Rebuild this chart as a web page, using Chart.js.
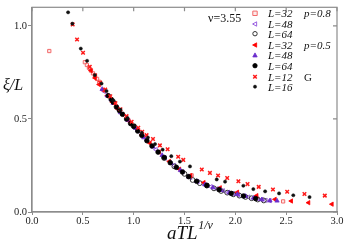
<!DOCTYPE html>
<html><head><meta charset="utf-8">
<script src="https://cdn.jsdelivr.net/npm/chart.js@4/dist/chart.umd.min.js"></script>
<style>html,body{margin:0;padding:0;background:#fff}#w{width:345px;height:243px;position:relative}</style>
</head><body><div id="w"><canvas id="c"></canvas></div>
<script>
// ---- data ----
const xTicks = [0, 0.5, 1.0, 1.5, 2.0, 2.5, 3.0];
const yTicks = [0, 0.5, 1.0];

const p8L32x = [0.17, 0.52, 0.54, 0.56, 0.58, 0.60, 0.62, 0.64, 0.66, 1.57, 2.47];
const p8L32y = [0.865, 0.805, 0.79, 0.775, 0.76, 0.745, 0.73, 0.715, 0.70, 0.197, 0.057];

const p8L48x = [0.71,0.78,0.86,0.95,1.04,1.13,1.22,1.31,1.40,1.48,1.56,1.63,1.70,1.76,1.82,1.88,1.93,1.98,2.03,2.08,2.13,2.18,2.22,2.26,2.30,2.34];
const p8L48y = [0.648,0.60,0.545,0.49,0.435,0.385,0.335,0.29,0.25,0.216,0.186,0.163,0.147,0.136,0.125,0.114,0.105,0.098,0.092,0.086,0.080,0.074,0.070,0.067,0.063,0.061];

const p8L64x = [1.30,1.40,1.50,1.58,1.65,1.72,1.79,1.86,1.92,1.98,2.04,2.10,2.16,2.22,2.28];
const p8L64y = [0.29,0.245,0.205,0.172,0.155,0.142,0.127,0.113,0.104,0.095,0.088,0.081,0.074,0.067,0.062];

const p5L32x = [0.58,0.62,0.66,0.70,0.74,0.79,0.84,0.89,0.95,1.01,1.08,1.16,1.25,1.35,1.45,1.56,1.69,1.85,2.02,2.21,2.39,2.55,2.72,2.95];
const p5L32y = [0.76,0.72,0.685,0.655,0.625,0.59,0.555,0.525,0.49,0.455,0.415,0.37,0.322,0.272,0.23,0.195,0.158,0.13,0.106,0.088,0.068,0.059,0.05,0.042];

const p5L48x = [0.69,0.74,0.80,0.87,0.94,1.02,1.10,1.19,1.28,1.37,1.46,1.54,1.62,1.70,1.78,1.86,1.94,2.02,2.10,2.18,2.26,2.34,2.41];
const p5L48y = [0.66,0.625,0.585,0.535,0.495,0.45,0.40,0.35,0.305,0.262,0.224,0.19,0.165,0.147,0.131,0.117,0.104,0.095,0.085,0.075,0.067,0.061,0.06];

const p5L64x = [0.75,0.78,0.80,0.83,0.86,0.89,0.93,0.97,1.00,1.04,1.08,1.13,1.18,1.24,1.30,1.36,1.42,1.48,1.54,1.62,1.72,1.84,1.96,2.08,2.20];
const p5L64y = [0.625,0.605,0.59,0.565,0.545,0.525,0.50,0.475,0.46,0.435,0.412,0.383,0.355,0.322,0.293,0.265,0.24,0.215,0.19,0.165,0.143,0.12,0.10,0.086,0.072];

const gL12x = [0.40,0.443,0.502,0.568,0.62,0.67,0.72,0.77,0.82,0.87,0.93,0.98,1.045,1.084,1.127,1.19,1.258,1.334,1.438,1.488,1.67,1.75,1.83,1.92,2.03,2.12,2.23,2.37,2.51,2.68,2.88];
const gL12y = [1.008,0.927,0.856,0.78,0.735,0.695,0.658,0.622,0.585,0.552,0.515,0.485,0.453,0.431,0.413,0.392,0.358,0.337,0.297,0.28,0.228,0.21,0.196,0.183,0.165,0.15,0.135,0.121,0.109,0.097,0.088];

const gL16x = [0.355,0.397,0.48,0.542,0.618,0.684,0.733,0.80,0.87,0.94,1.01,1.08,1.14,1.21,1.285,1.37,1.455,1.554,1.817,1.899,2.079,2.177,2.293,2.43,2.57,2.73];
const gL16y = [1.073,1.012,0.878,0.8125,0.736,0.69,0.65,0.60,0.55,0.505,0.465,0.425,0.40,0.365,0.335,0.30,0.271,0.245,0.175,0.163,0.141,0.123,0.111,0.10,0.09,0.08];

const legendLabels = ['L=32','L=48','L=64','L=32','L=48','L=64','L=12','L=16'];
const groupLabels  = ['p=0.8','','','p=0.5','','','G',''];
const nuLabel = 'ν=3.55';

// ---- build ----
const pts = (xs, ys) => xs.map((x, i) => ({x, y: ys[i]}));
const styles = [
  {pointStyle:'rect', rotation:0, radius:2.3, borderColor:'#f26a6a', backgroundColor:'rgba(242,106,106,0.15)', borderWidth:1},
  {pointStyle:'triangle', rotation:-90, radius:2.5, borderColor:'#9a60e0', backgroundColor:'rgba(0,0,0,0)', borderWidth:1},
  {pointStyle:'circle', rotation:0, radius:2.4, borderColor:'#333', backgroundColor:'rgba(0,0,0,0)', borderWidth:1},
  {pointStyle:'triangle', rotation:-90, radius:2.5, borderColor:'#ff0000', backgroundColor:'#ff0000', borderWidth:0.8},
  {pointStyle:'triangle', rotation:0, radius:2.5, borderColor:'#6a2ccc', backgroundColor:'#6a2ccc', borderWidth:0.8},
  {pointStyle:'circle', rotation:0, radius:2.3, borderColor:'#000', backgroundColor:'#000', borderWidth:0.8},
  {pointStyle:'crossRot', rotation:0, radius:2.5, borderColor:'#ff1a1a', backgroundColor:'#ff1a1a', borderWidth:1.5},
  {pointStyle:'circle', rotation:0, radius:1.6, borderColor:'#111', backgroundColor:'#111', borderWidth:0.5},
];
const series = [
  pts(p8L32x,p8L32y), pts(p8L48x,p8L48y), pts(p8L64x,p8L64y),
  pts(p5L32x,p5L32y), pts(p5L48x,p5L48y), pts(p5L64x,p5L64y),
  pts(gL12x,gL12y), pts(gL16x,gL16y)
];
const datasets = series.map((d, i) => ({
  label: legendLabels[i] + ' ' + groupLabels[i],
  data: d,
  pointStyle: styles[i].pointStyle,
  pointRotation: styles[i].rotation,
  pointRadius: styles[i].radius,
  pointBorderColor: styles[i].borderColor,
  pointBackgroundColor: styles[i].backgroundColor,
  pointBorderWidth: styles[i].borderWidth,
  showLine: false,
  order: 8 - i
}));

function marker(ctx, s, x, y) {
  ctx.save();
  ctx.translate(x, y);
  ctx.rotate(s.rotation * Math.PI / 180);
  ctx.strokeStyle = s.borderColor; ctx.fillStyle = s.backgroundColor; ctx.lineWidth = s.borderWidth;
  const r = s.radius;
  ctx.beginPath();
  if (s.pointStyle === 'rect') { ctx.rect(-r, -r, 2*r, 2*r); ctx.fill(); ctx.stroke(); }
  else if (s.pointStyle === 'circle') { ctx.arc(0, 0, r, 0, Math.PI*2); ctx.fill(); ctx.stroke(); }
  else if (s.pointStyle === 'triangle') {
    ctx.moveTo(0, -r*1.1); ctx.lineTo(r, r*0.75); ctx.lineTo(-r, r*0.75); ctx.closePath(); ctx.fill(); ctx.stroke();
  } else if (s.pointStyle === 'crossRot') {
    const d = r*0.8; ctx.moveTo(-d,-d); ctx.lineTo(d,d); ctx.moveTo(d,-d); ctx.lineTo(-d,d); ctx.stroke();
  }
  ctx.restore();
}

const deco = {
  id: 'deco',
  afterDraw(chart) {
    const ctx = chart.ctx, a = chart.chartArea, xs = chart.scales.x, ys = chart.scales.y;
    ctx.save();
    ctx.strokeStyle = '#8c8c8c'; ctx.lineWidth = 1.2;
    ctx.strokeRect(a.left, a.top, a.right - a.left, a.bottom - a.top);
    ctx.beginPath();
    xTicks.forEach(v => { const px = xs.getPixelForValue(v); ctx.moveTo(px, a.top); ctx.lineTo(px, a.top + 4); });
    yTicks.forEach(v => { const py = ys.getPixelForValue(v); ctx.moveTo(a.right, py); ctx.lineTo(a.right - 4, py); });
    ctx.stroke();
    ctx.fillStyle = '#111';
    // axis titles
    ctx.textBaseline = 'alphabetic'; ctx.textAlign = 'left';
    ctx.font = 'italic 19px "Liberation Serif"';
    ctx.fillText('aTL', 167, 239);
    const w = ctx.measureText('aTL').width;
    ctx.font = 'italic 12px "Liberation Serif"';
    ctx.fillText('1/ν', 167 + w + 0.5, 229);
    ctx.font = 'italic 16px "Liberation Serif"';
    ctx.fillText('ξ/L', 3, 90);
    // nu label
    ctx.font = '12px "Liberation Serif"';
    ctx.fillText(nuLabel, 208, 22);
    // legend
    const rows = [13.3, 24, 33.7, 45, 55.3, 65.7, 76.7, 86.7];
    rows.forEach((ry, i) => {
      const s = Object.assign({}, styles[i], { radius: Math.min(styles[i].radius, 2.2) });
      marker(ctx, s, 255, ry);
      ctx.fillStyle = '#111';
      ctx.font = 'italic 11px "Liberation Serif"';
      ctx.fillText(legendLabels[i], 268, ry + 3.8);
      if (groupLabels[i]) {
        ctx.font = (groupLabels[i] === 'G' ? '' : 'italic ') + '11px "Liberation Serif"';
        ctx.fillText(groupLabels[i], 304, ry + 3.8);
      }
    });
    ctx.restore();
  }
};

new Chart(document.getElementById('c'), {
  type: 'scatter',
  data: { datasets },
  options: {
    responsive: true, maintainAspectRatio: false, animation: false,
    layout: { padding: { left: 0, right: 8, top: 1, bottom: 0 } },
    plugins: { legend: { display: false }, tooltip: { enabled: false } },
    scales: {
      x: {
        type: 'linear', min: 0, max: 3.0,
        afterBuildTicks: s => { s.ticks = xTicks.map(v => ({ value: v })); },
        afterFit: s => { s.height = 31; },
        ticks: { callback: v => v.toFixed(1), color: '#222', padding: 0, font: { family: 'Liberation Serif', size: 10.5 }, maxRotation: 0 },
        grid: { drawOnChartArea: false, drawTicks: true, tickLength: 3, color: '#8c8c8c' },
        border: { color: '#8c8c8c', width: 1.2 }
      },
      y: {
        type: 'linear', min: 0, max: 1.1,
        afterBuildTicks: s => { s.ticks = yTicks.map(v => ({ value: v })); },
        afterFit: s => { s.width = 32; },
        ticks: { callback: v => v.toFixed(1), color: '#222', padding: 1, font: { family: 'Liberation Serif', size: 10.5 } },
        grid: { drawOnChartArea: false, drawTicks: true, tickLength: 4, color: '#8c8c8c' },
        border: { color: '#8c8c8c', width: 1.2 }
      }
    }
  },
  plugins: [deco]
});
</script></body></html>
